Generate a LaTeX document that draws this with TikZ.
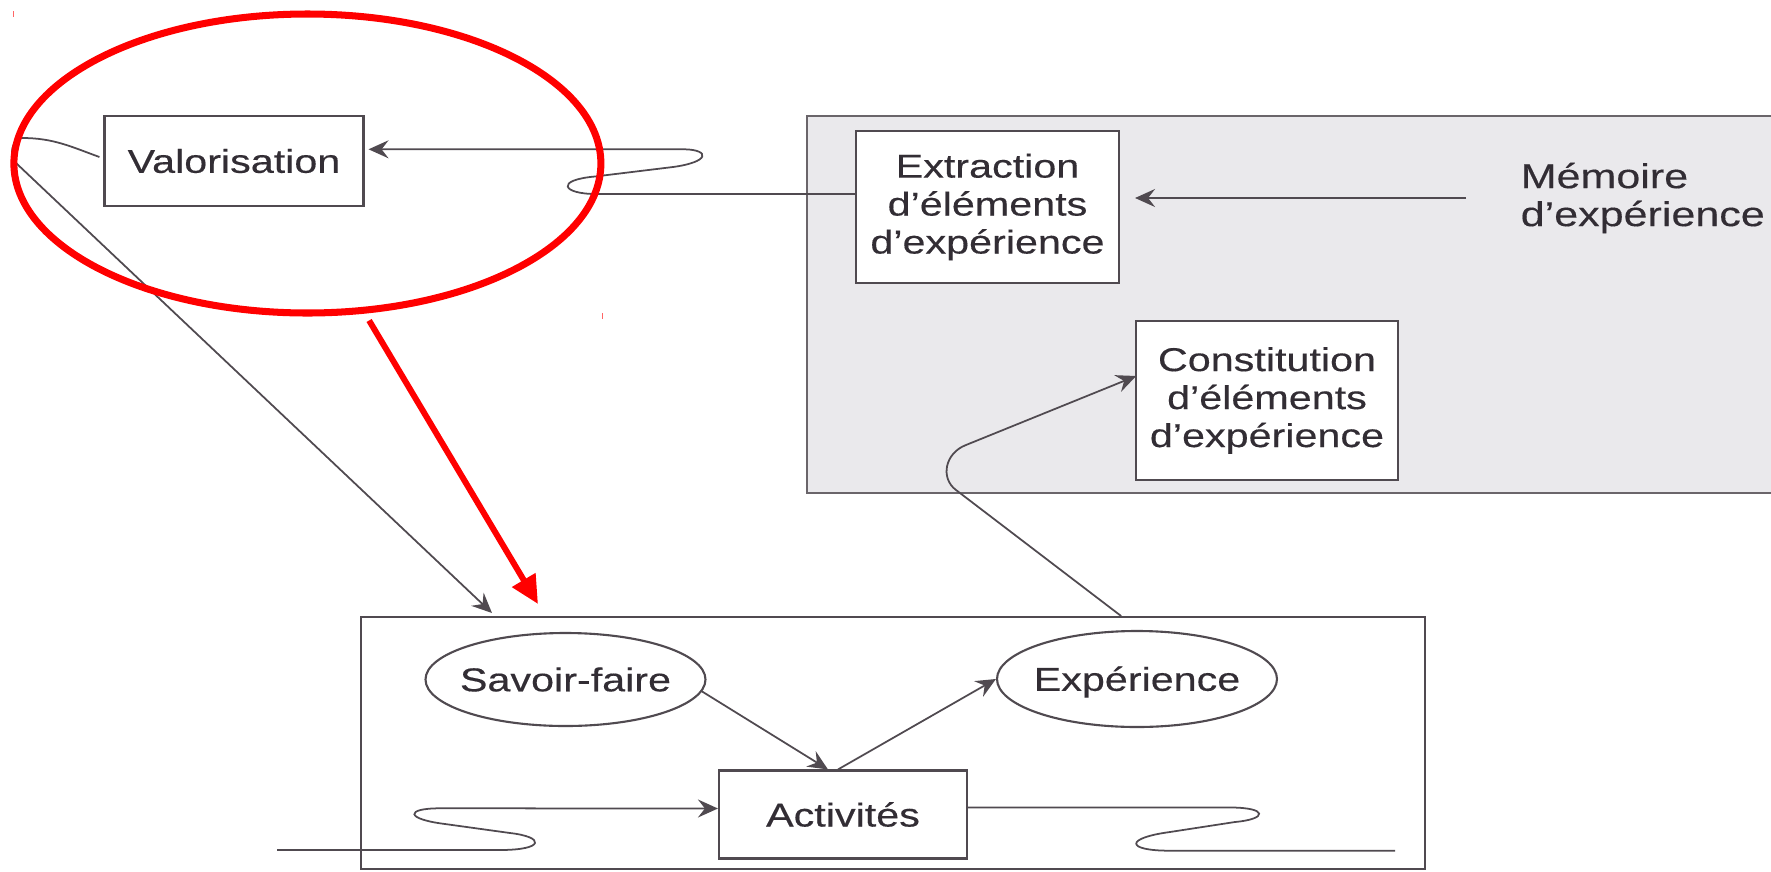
\documentclass[tikz,border=0pt]{standalone}
\usepackage{fontspec}
\newfontfamily\diagfont[FakeStretch=1.25,FakeBold=0.35]{Liberation Sans}
\usetikzlibrary{arrows.meta,shapes.geometric}
\definecolor{ink}{RGB}{50,45,52}
\definecolor{edge}{RGB}{80,74,80}
\definecolor{panelgray}{RGB}{234,233,236}

\begin{document}
\begin{tikzpicture}[
  box/.style={draw=edge, line width=0.6pt, fill=white, inner sep=0pt, text=ink, align=center, font=\diagfont\fontsize{9.4}{10.8}\selectfont},
  oval/.style={ellipse, draw=edge, line width=0.6pt, fill=white, inner xsep=-5pt, inner ysep=0pt, text height=6.7pt, text depth=0pt, text=ink, font=\diagfont\fontsize{9.4}{10.8}\selectfont},
  link/.style={draw=edge, line width=0.5pt, -{Stealth[length=2mm,width=1.8mm,inset=0.7mm]}},
  wire/.style={draw=edge, line width=0.5pt},
  redmark/.style={red, line width=1.7pt}
]
\useasboundingbox (0,0) rectangle (17.71,-8.71);

\node[draw=edge!85, fill=panelgray, line width=0.5pt, anchor=north west, minimum width=9.70cm, minimum height=3.77cm, inner sep=0pt] (zone) at (8.06,-1.15) {};
\node[draw=edge, line width=0.6pt, anchor=north west, minimum width=10.64cm, minimum height=2.52cm, inner sep=0pt] (frame) at (3.60,-6.16) {};

\node[box, minimum width=2.59cm, minimum height=0.90cm] (valor) at (2.34,-1.61) {Valorisation};
\node[box, minimum width=2.63cm, minimum height=1.52cm] (extr) at (9.875,-2.07) {Extraction\\d’éléments\\d’expérience};
\node[box, minimum width=2.615cm, minimum height=1.59cm] (const) at (12.67,-4.005) {Constitution\\d’éléments\\d’expérience};
\node[anchor=west, align=left, inner sep=0pt, text=ink, font=\diagfont\fontsize{9.8}{10.8}\selectfont] (memoire) at (15.20,-1.98) {Mémoire\\d’expérience};
\node[oval, minimum width=2.80cm, minimum height=0.93cm] (savoir) at (5.655,-6.795) {Savoir-faire};
\node[oval, minimum width=2.80cm, minimum height=0.96cm] (exper) at (11.37,-6.79) {Expérience};
\node[box, minimum width=2.48cm, minimum height=0.88cm] (activ) at (8.43,-8.145) {Activités};

\coordinate (inflow) at (2.77,-8.50);
\coordinate (outflow) at (13.95,-8.507);

\draw[link, shorten <=5.4mm, shorten >=1.5mm] (memoire.west) -- (memoire.west -| extr.east);
\draw[link] ([yshift=1.3mm]extr.west) -- (5.96,-1.94) .. controls (5.62,-1.94) and (5.55,-1.80) .. (5.95,-1.765) -- (6.73,-1.67) .. controls (7.10,-1.62) and (7.10,-1.50) .. (6.85,-1.493) -- ([xshift=0.4mm,yshift=1.17mm]valor.east);
\draw[link] ([xshift=-0.4mm,yshift=0.4mm]valor.west) to[out=160,in=0] (0.22,-1.38) to[out=180,in=137] (0.16,-1.63) -- ([xshift=13.2mm,yshift=0.3mm]frame.north west);
\draw[link] ([xshift=-30.5mm]frame.north east) -- (9.56,-4.90) .. controls (9.40,-4.78) and (9.45,-4.53) .. (9.66,-4.45) -- ([xshift=0.1mm,yshift=2.45mm]const.west);
\draw[link] (savoir.-5) -- ([xshift=-1.5mm]activ.north);
\draw[link] ([xshift=-0.5mm]activ.north) -- (exper.west);
\draw[link] (inflow) -- (5.00,-8.50) .. controls (5.45,-8.50) and (5.45,-8.37) .. (5.10,-8.33) -- (4.45,-8.24) .. controls (4.05,-8.19) and (4.05,-8.083) .. (4.40,-8.083) -- ([yshift=0.6mm]activ.west);
\draw[wire] ([yshift=0.7mm]activ.east) -- (12.30,-8.075) .. controls (12.68,-8.075) and (12.68,-8.19) .. (12.35,-8.22) -- (11.70,-8.32) .. controls (11.25,-8.38) and (11.25,-8.507) .. (11.70,-8.507) -- (outflow);

\node[ellipse, draw=red, line width=2pt, minimum width=5.87cm, minimum height=2.99cm, inner sep=0pt] (focus) at (3.074,-1.635) {};
\draw[redmark, shorten <=0.8mm, -{Triangle[length=2.8mm,width=2.6mm]}] (focus.-69) -- ([xshift=17.8mm,yshift=1.2mm]frame.north west);
\draw[red!60, line width=0.5pt] (0.134,-0.11) -- (0.134,-0.17);
\draw[red!60, line width=0.5pt] (6.025,-3.13) -- (6.025,-3.19);
\end{tikzpicture}
\end{document}
